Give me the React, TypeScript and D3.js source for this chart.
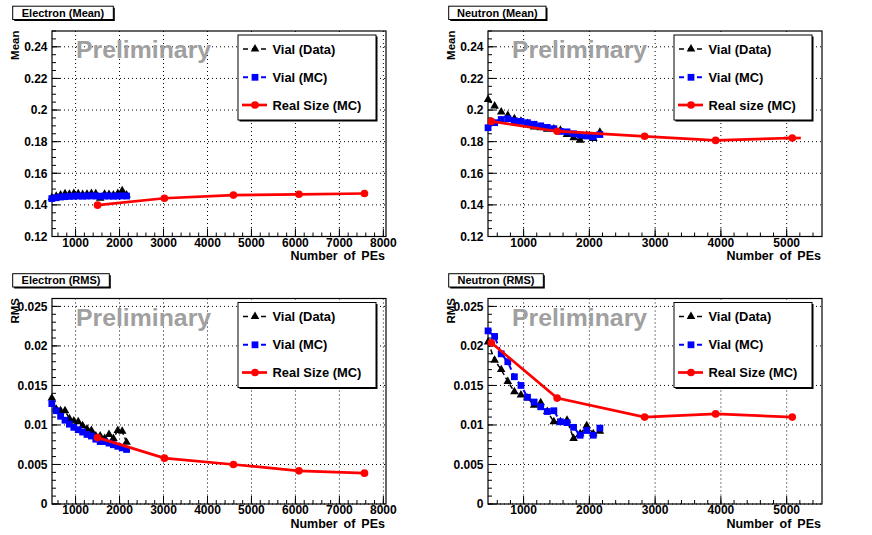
import React from 'react';
import * as d3 from 'd3';

// PE values of the vial measurements (data and MC share the same points)
const vialPE = [460, 560, 660, 760, 860, 960, 1060, 1160, 1260, 1360, 1460, 1560, 1660, 1760, 1860, 1960, 2060, 2160];

// Electron (Mean)
const electronMeanData = [0.1445, 0.1455, 0.1462, 0.1470, 0.1468, 0.1472, 0.1470, 0.1466, 0.1468, 0.1472, 0.1470, 0.1442, 0.1468, 0.1466, 0.1462, 0.1472, 0.1490, 0.1462];
const electronMeanMC = [0.1440, 0.1445, 0.1450, 0.1452, 0.1454, 0.1455, 0.1456, 0.1455, 0.1456, 0.1457, 0.1456, 0.1455, 0.1456, 0.1456, 0.1455, 0.1456, 0.1457, 0.1456];
const electronRealPE = [1500, 3020, 4590, 6080, 7570];
const electronMeanReal = [0.1398, 0.1442, 0.1462, 0.1467, 0.1472];

// Electron (RMS)
const electronRmsData = [0.0134, 0.0120, 0.0118, 0.0118, 0.0108, 0.0105, 0.0104, 0.0099, 0.0095, 0.0093, 0.0086, 0.0086, 0.0083, 0.0088, 0.0083, 0.0093, 0.0092, 0.0078];
const electronRmsMC = [0.0127, 0.0118, 0.0111, 0.0106, 0.0101, 0.0097, 0.0094, 0.0091, 0.0088, 0.0086, 0.0082, 0.0079, 0.0079, 0.0077, 0.0075, 0.0073, 0.0071, 0.0069];
const electronRmsReal = [0.0084, 0.0058, 0.0050, 0.0042, 0.0039];

// Neutron (Mean)
const neutronMeanData = [0.2067, 0.2025, 0.1988, 0.1966, 0.1945, 0.1930, 0.1915, 0.1892, 0.1888, 0.1878, 0.1880, 0.1872, 0.1845, 0.1825, 0.1808, 0.1840, 0.1820, 0.1860];
const neutronMeanMC = [0.1888, 0.1920, 0.1940, 0.1945, 0.1932, 0.1928, 0.1920, 0.1910, 0.1900, 0.1890, 0.1882, 0.1865, 0.1862, 0.1850, 0.1842, 0.1836, 0.1830, 0.1845];
const neutronRealPE = [510, 1510, 2840, 3920, 5085];
const neutronMeanReal = [0.1928, 0.1866, 0.1834, 0.1808, 0.1823];
const neutronMeanRealErr = [0, 0, 0, 0, 130];

// Neutron (RMS)
const neutronRmsData = [0.0205, 0.0182, 0.0170, 0.0155, 0.0142, 0.0138, 0.0134, 0.0125, 0.0128, 0.0117, 0.0104, 0.0104, 0.0106, 0.0083, 0.0089, 0.0099, 0.0089, 0.0092];
const neutronRmsMC = [0.0219, 0.0212, 0.0190, 0.0180, 0.0161, 0.0150, 0.0135, 0.0129, 0.0123, 0.0117, 0.0118, 0.0104, 0.0103, 0.0097, 0.0087, 0.0093, 0.0087, 0.0096];
const neutronRmsReal = [0.0204, 0.0134, 0.0110, 0.0114, 0.0110];

// tick labels
const meanTicks = [0.12, 0.14, 0.16, 0.18, 0.2, 0.22, 0.24];
const rmsTicks = [0, 0.005, 0.01, 0.015, 0.02, 0.025];
const electronPETicks = [1000, 2000, 3000, 4000, 5000, 6000, 7000, 8000];
const neutronPETicks = [1000, 2000, 3000, 4000, 5000];

const W = 872;
const H = 535;
const PW = 436;
const PH = 267.5;
// frame inside each pad
const FL = 52, FR = 386, FT = 31, FB = 236.5;

const FONT = '"Liberation Sans", Arial, Helvetica, sans-serif';

const minors = (d: [number, number], step: number) =>
  d3.range(Math.ceil(d[0] / step - 1e-9), Math.floor(d[1] / step + 1e-9) + 1).map(i => i * step);

const fmt = (v: number) => String(+v.toFixed(4));

const triPath = d3.symbol(d3.symbolTriangle, 32)()!;
const sqPath = d3.symbol(d3.symbolSquare, 46)()!;
const circPath = d3.symbol(d3.symbolCircle, 46)()!;

interface PanelProps {
  ox: number;
  oy: number;
  title: string;
  titleW: number;
  yTitle: string;
  xDomain: [number, number];
  yDomain: [number, number];
  xTicks: number[];
  yTicks: number[];
  xMinor: number;
  yMinor: number;
  dataY: number[];
  mcY: number[];
  realX: number[];
  realY: number[];
  realErr?: number[];
  realLabel: string;
}

const Panel: React.FC<PanelProps> = p => {
  const x = d3.scaleLinear().domain(p.xDomain).range([FL, FR]);
  const y = d3.scaleLinear().domain(p.yDomain).range([FB, FT]);
  const line = d3.line<[number, number]>().x(d => x(d[0])).y(d => y(d[1]));

  const dataPts: [number, number][] = vialPE.map((v, i) => [v, p.dataY[i]]);
  const mcPts: [number, number][] = vialPE.map((v, i) => [v, p.mcY[i]]);
  const realPts: [number, number][] = p.realX.map((v, i) => [v, p.realY[i]]);

  const rows = [49, 77.3, 105];

  return (
    <g transform={`translate(${p.ox},${p.oy})`} fontFamily={FONT} fontWeight="bold">
      {/* grid */}
      <g stroke="#000" strokeWidth={1} strokeDasharray="1,3">
        {p.xTicks.map(t => (
          <line key={'gx' + t} x1={x(t)} x2={x(t)} y1={FT} y2={FB} />
        ))}
        {p.yTicks.map(t => (
          <line key={'gy' + t} x1={FL} x2={FR} y1={y(t)} y2={y(t)} />
        ))}
      </g>

      {/* ticks */}
      <g stroke="#000" strokeWidth={1}>
        {minors(p.xDomain, p.xMinor).map(t => (
          <line key={'mx' + t} x1={x(t)} x2={x(t)} y1={FB} y2={FB - 4} />
        ))}
        {p.xTicks.map(t => (
          <line key={'tx' + t} x1={x(t)} x2={x(t)} y1={FB} y2={FB - 8} />
        ))}
        {minors(p.yDomain, p.yMinor).map(t => (
          <line key={'my' + t} x1={FL} x2={FL + 4} y1={y(t)} y2={y(t)} />
        ))}
        {p.yTicks.map(t => (
          <line key={'ty' + t} x1={FL} x2={FL + 8} y1={y(t)} y2={y(t)} />
        ))}
      </g>
      <rect x={FL} y={FT} width={FR - FL} height={FB - FT} fill="none" stroke="#000" strokeWidth={1.2} />

      {/* tick labels */}
      <g fontSize={12} fill="#000">
        {p.xTicks.map(t => (
          <text key={'lx' + t} x={x(t)} y={FB + 10.3} textAnchor="middle">
            {t}
          </text>
        ))}
        {p.yTicks.map(t => (
          <text key={'ly' + t} x={FL - 4.5} y={y(t) + 4.3} textAnchor="end">
            {fmt(t)}
          </text>
        ))}
      </g>
      <text x={FR - 1} y={FB + 23.5} textAnchor="end" fontSize={12.5} wordSpacing={2.5}>
        Number of PEs
      </text>
      <text transform={`translate(19,${FT - 0.5}) rotate(-90)`} textAnchor="end" fontSize={11.5}>
        {p.yTitle}
      </text>

      {/* Vial (Data) */}
      <path d={line(dataPts)!} fill="none" stroke="#000" strokeWidth={1.5} strokeDasharray="5,3" />
      {dataPts.map((d, i) => (
        <path key={'t' + i} d={triPath} transform={`translate(${x(d[0])},${y(d[1])})`} fill="#000" />
      ))}

      {/* Vial (MC) */}
      <path d={line(mcPts)!} fill="none" stroke="#0000ff" strokeWidth={2} strokeDasharray="6,4" />
      {mcPts.map((d, i) => (
        <path key={'s' + i} d={sqPath} transform={`translate(${x(d[0])},${y(d[1])})`} fill="#0000ff" />
      ))}

      {/* Real size (MC) */}
      <path d={line(realPts)!} fill="none" stroke="#ff0000" strokeWidth={2.7} />
      {p.realErr &&
        realPts.map((d, i) =>
          p.realErr![i] > 0 ? (
            <line
              key={'e' + i}
              x1={x(d[0] - p.realErr![i])}
              x2={x(d[0] + p.realErr![i])}
              y1={y(d[1])}
              y2={y(d[1])}
              stroke="#ff0000"
              strokeWidth={2.7}
            />
          ) : null
        )}
      {realPts.map((d, i) => (
        <path key={'c' + i} d={circPath} transform={`translate(${x(d[0])},${y(d[1])})`} fill="#ff0000" />
      ))}

      {/* Preliminary */}
      <text x={76} y={58} fontSize={24.8} fill="#a0a0a0">
        Preliminary
      </text>

      {/* legend */}
      <rect x={239.5} y={36.5} width={138} height={85} fill="#000" />
      <rect x={238} y={35} width={138} height={85} fill="#fff" stroke="#000" strokeWidth={1} />
      <line x1={243} x2={267} y1={rows[0]} y2={rows[0]} stroke="#000" strokeWidth={1.5} strokeDasharray="5,4" />
      <path d={triPath} transform={`translate(255,${rows[0]})`} fill="#000" />
      <line x1={243} x2={267} y1={rows[1]} y2={rows[1]} stroke="#0000ff" strokeWidth={2} strokeDasharray="5,4" />
      <path d={sqPath} transform={`translate(255,${rows[1]})`} fill="#0000ff" />
      <line x1={242} x2={267} y1={rows[2]} y2={rows[2]} stroke="#ff0000" strokeWidth={2.7} />
      <path d={circPath} transform={`translate(255,${rows[2]})`} fill="#ff0000" />
      <g fontSize={12.9} fill="#000">
        <text x={272.5} y={rows[0] + 4.6}>Vial (Data)</text>
        <text x={272.5} y={rows[1] + 4.6}>Vial (MC)</text>
        <text x={272.5} y={rows[2] + 4.6}>{p.realLabel}</text>
      </g>

      {/* title box */}
      <rect x={14.2} y={7.7} width={p.titleW} height={13.3} fill="#000" />
      <rect x={12.7} y={6.2} width={p.titleW} height={13.3} fill="#fff" stroke="#000" strokeWidth={1} />
      <text x={12.7 + p.titleW / 2} y={16.9} textAnchor="middle" fontSize={11}>
        {p.title}
      </text>
    </g>
  );
};

const App: React.FC = () => {
  const electronX: [number, number] = [464, 8060];
  const neutronX: [number, number] = [459, 5537];
  const meanY: [number, number] = [0.12, 0.25];
  const rmsY: [number, number] = [0, 0.026];

  return (
    <svg width={W} height={H} style={{ position: 'absolute', left: 0, top: 0, background: '#fff' }}>
      <rect width={W} height={H} fill="#fff" />
      <Panel
        ox={0}
        oy={0}
        title="Electron (Mean)"
        titleW={100.6}
        yTitle="Mean"
        xDomain={electronX}
        yDomain={meanY}
        xTicks={electronPETicks}
        yTicks={meanTicks}
        xMinor={200}
        yMinor={0.005}
        dataY={electronMeanData}
        mcY={electronMeanMC}
        realX={electronRealPE}
        realY={electronMeanReal}
        realLabel="Real Size (MC)"
      />
      <Panel
        ox={PW}
        oy={0}
        title="Neutron (Mean)"
        titleW={97.3}
        yTitle="Mean"
        xDomain={neutronX}
        yDomain={meanY}
        xTicks={neutronPETicks}
        yTicks={meanTicks}
        xMinor={200}
        yMinor={0.005}
        dataY={neutronMeanData}
        mcY={neutronMeanMC}
        realX={neutronRealPE}
        realY={neutronMeanReal}
        realErr={neutronMeanRealErr}
        realLabel="Real size (MC)"
      />
      <Panel
        ox={0}
        oy={PH}
        title="Electron (RMS)"
        titleW={96.6}
        yTitle="RMS"
        xDomain={electronX}
        yDomain={rmsY}
        xTicks={electronPETicks}
        yTicks={rmsTicks}
        xMinor={200}
        yMinor={0.001}
        dataY={electronRmsData}
        mcY={electronRmsMC}
        realX={electronRealPE}
        realY={electronRmsReal}
        realLabel="Real Size (MC)"
      />
      <Panel
        ox={PW}
        oy={PH}
        title="Neutron (RMS)"
        titleW={94.6}
        yTitle="RMS"
        xDomain={neutronX}
        yDomain={rmsY}
        xTicks={neutronPETicks}
        yTicks={rmsTicks}
        xMinor={200}
        yMinor={0.001}
        dataY={neutronRmsData}
        mcY={neutronRmsMC}
        realX={neutronRealPE}
        realY={neutronRmsReal}
        realLabel="Real Size (MC)"
      />
    </svg>
  );
};

export default App;
